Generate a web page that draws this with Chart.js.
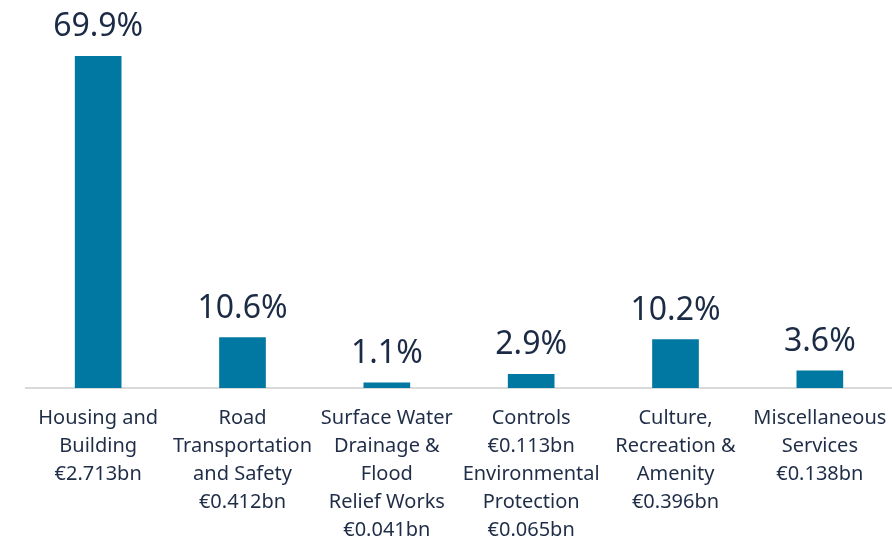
<!DOCTYPE html>
<html>
<head>
<meta charset="utf-8">
<script src="https://cdn.jsdelivr.net/npm/chart.js"></script>
<style>
  html, body { margin: 0; padding: 0; background: #fff; }
  #wrap { width: 892px; height: 538px; }
</style>
</head>
<body>
<div id="wrap"><canvas id="spendChart" width="892" height="538"></canvas></div>
<script>
// categories (multi-line) and share of spend
const categories = [
  ['Housing and', 'Building', '€2.713bn'],
  ['Road', 'Transportation', 'and Safety', '€0.412bn'],
  ['Surface Water', 'Drainage &', 'Flood', 'Relief Works', '€0.041bn'],
  ['Controls', '€0.113bn', 'Environmental', 'Protection', '€0.065bn'],
  ['Culture,', 'Recreation &', 'Amenity', '€0.396bn'],
  ['Miscellaneous', 'Services', '€0.138bn']
];
const shares = [69.9, 10.6, 1.1, 2.9, 10.2, 3.6];
const shareLabels = ['69.9%', '10.6%', '1.1%', '2.9%', '10.2%', '3.6%'];

const FONT = '"Noto Sans", sans-serif';

// draws the % above each bar
const valueLabels = {
  id: 'valueLabels',
  afterDatasetsDraw(chart) {
    const ctx = chart.ctx;
    const meta = chart.getDatasetMeta(0);
    ctx.save();
    ctx.font = '32px ' + FONT;
    ctx.fillStyle = '#1b2b45';
    ctx.textAlign = 'center';
    ctx.textBaseline = 'alphabetic';
    meta.data.forEach((bar, i) => {
      ctx.fillText(shareLabels[i], bar.x, bar.y - 20);
    });
    ctx.restore();
  }
};

new Chart(document.getElementById('spendChart').getContext('2d'), {
  type: 'bar',
  data: {
    labels: categories,
    datasets: [{
      data: shares,
      backgroundColor: '#0078a2',
      barThickness: 46
    }]
  },
  options: {
    responsive: false,
    animation: false,
    layout: { padding: { top: 56, left: 26, right: 0, bottom: 0 } },
    plugins: { legend: { display: false }, tooltip: { enabled: false } },
    scales: {
      y: { display: false, min: 0, max: 69.9 },
      x: {
        grid: { display: false, drawTicks: false },
        border: { display: true, color: '#d9d9d9', width: 2 },
        ticks: {
          color: '#1f2d47',
          font: { family: FONT, size: 20, lineHeight: '28px' },
          padding: 16,
          maxRotation: 0,
          autoSkip: false
        },
        afterFit(scale) {
          scale.height = 150;
          scale.paddingLeft = 0;
          scale.paddingRight = 0;
        }
      }
    }
  },
  plugins: [valueLabels]
});
</script>
</body>
</html>
